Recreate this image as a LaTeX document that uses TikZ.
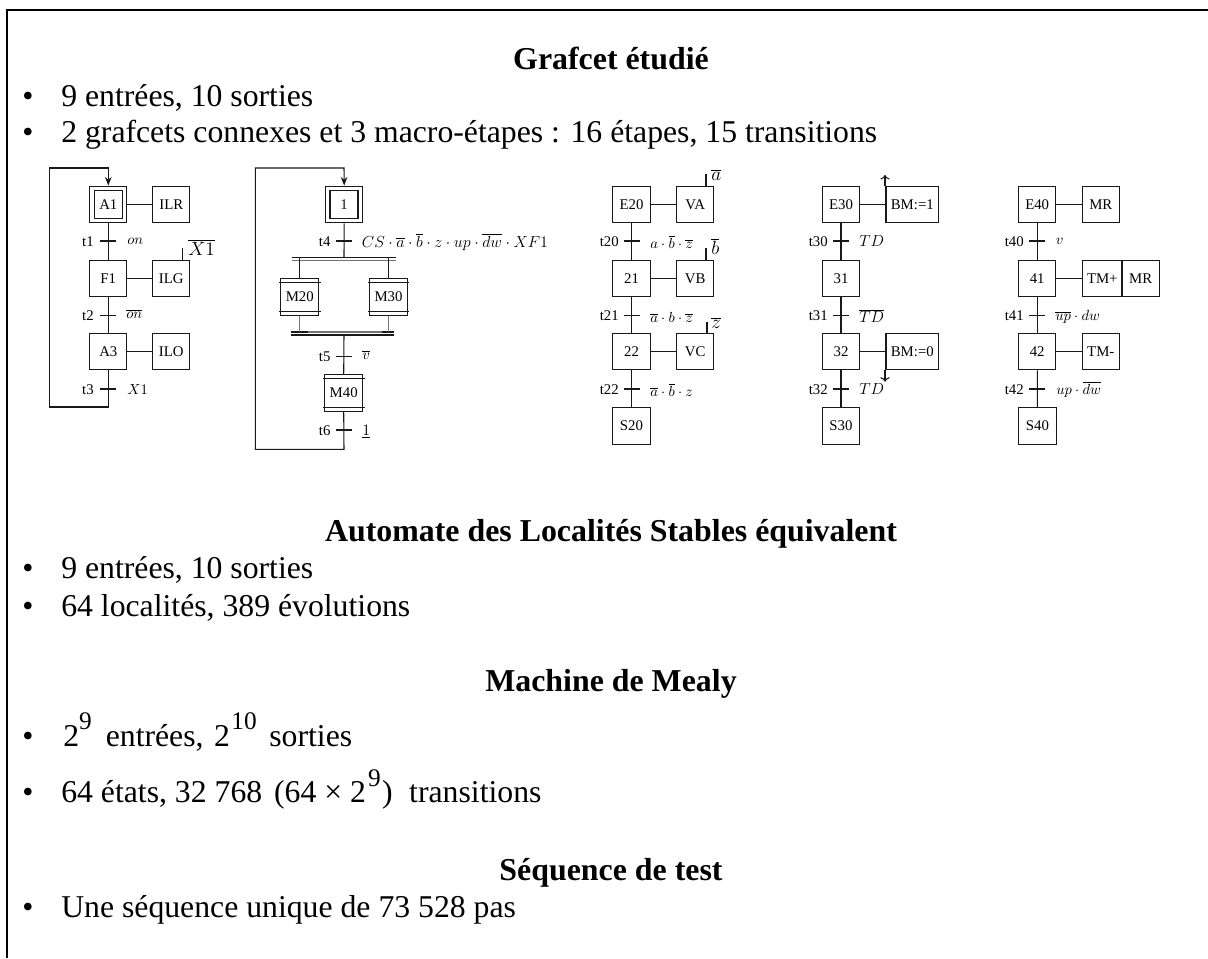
\documentclass[tikz,border=0pt]{standalone}
\usepackage{fontspec}
\setmainfont{Liberation Serif}
\usetikzlibrary{arrows.meta}
\newcommand{\bodyfs}{\fontsize{23.8pt}{28pt}\selectfont}
\newcommand{\supfs}{\fontsize{19pt}{22pt}\selectfont}
\newcommand{\sketchsup}[1]{\raisebox{12.5pt}{\supfs #1}}
\tikzset{
  x=0.75pt,y=-0.75pt,
  frameline/.style={line width=1.5pt,black},
  conn/.style={line width=0.8pt,black!90},
  stepbox/.style={draw,line width=0.8pt,black!90,text=black,inner sep=0pt,minimum width=27.9pt,minimum height=27.6pt,font=\fontsize{11.1pt}{13pt}\selectfont},
  wide/.style={minimum width=39.5pt},
  tm/.style={minimum width=29.5pt},
  macrobox/.style={stepbox,minimum width=28.6pt},
  innerbox/.style={draw,line width=0.8pt,black!90,inner sep=0pt,minimum width=21pt,minimum height=20.8pt},
  ttitle/.style={anchor=base,inner sep=0pt,font=\fontsize{23.9pt}{28pt}\selectfont\bfseries},
  bodytxt/.style={anchor=base west,inner sep=0pt,font=\bodyfs},
  bul/.style={anchor=base,inner sep=0pt,font=\bodyfs},
  tname/.style={anchor=base east,inner sep=0pt,font=\fontsize{11.1pt}{13pt}\selectfont},
  cond/.style={anchor=base west,inner sep=0pt,font=\fontsize{11.85pt}{14pt}\selectfont},
  smallcond/.style={anchor=base west,inner sep=0pt,font=\fontsize{11pt}{13pt}\selectfont},
  bigcond/.style={anchor=base west,inner sep=0pt,font=\fontsize{15pt}{17pt}\selectfont},
}
\newcommand{\tick}[1]{\draw[conn] ([xshift=-6pt]#1) -- ([xshift=6pt]#1);}
\begin{document}
\begin{tikzpicture}
\useasboundingbox (0,0) rectangle (1208,958);
\draw[frameline] (7,958) -- (7,10) -- (1208,10);

% Texts
\node[ttitle] (h1) at (611,69) {Grafcet étudié};
\node[bul] (b1) at (28,106) {•};
\node[bodytxt] (l1) at (61,106) {9 entrées, 10 sorties};
\node[bul] (b2) at (28,142) {•};
\node[bodytxt] (l2) at (61,142) {2 grafcets connexes et 3 macro-étapes : 16 étapes, 15 transitions};

\node[ttitle] (h2) at (611,541.7) {Automate des Localités Stables équivalent};
\node[bul] (b3) at (28,578) {•};
\node[bodytxt] (l3) at (61,578) {9 entrées, 10 sorties};
\node[bul] (b4) at (28,616) {•};
\node[bodytxt] (l4) at (61,616) {64 localités, 389 évolutions};

\node[ttitle] (h3) at (611,691) {Machine de Mealy};
\node[bul] (b5) at (28,746) {•};
\node[bodytxt] (l5) at (63,746) {2\sketchsup{9}\hspace{10.5pt}entrées,\hspace{2pt} 2\hspace{1pt}\sketchsup{10}\hspace{9.5pt}sorties};
\node[bul] (b6) at (28,802.7) {•};
\node[bodytxt] (l6) at (61,802.7) {64 états, 32 768 \hspace{3pt}(64 × 2\hspace{1.5pt}\sketchsup{9}\hspace{1pt}) \hspace{6.5pt}transitions};

\node[ttitle] (h4) at (611,880.7) {Séquence de test};
\node[bul] (b7) at (28,917) {•};
\node[bodytxt] (l7) at (61,917) {Une séquence unique de 73 528 pas};

% Grafcet 1
\node[stepbox] (A1) at (108.3,204.5) {A1};
\node[innerbox] (A1i) at (108.3,204.8) {};
\node[stepbox] (ILR) at (171.3,204.5) {ILR};
\node[stepbox] (F1) at (108.3,278.5) {F1};
\node[stepbox] (ILG) at (171.3,278.5) {ILG};
\node[stepbox] (A3) at (108.3,351.5) {A3};
\node[stepbox] (ILO) at (171.3,351.5) {ILO};
\coordinate (t1) at (108.3,241);
\coordinate (t2) at (108.3,315.3);
\coordinate (t3) at (108.3,389);
\coordinate (la) at (108.3,407);
\coordinate (lb) at (49.3,407);
\coordinate (lc) at (49.3,168);
\coordinate (ld) at (108.3,168);
\coordinate (s1) at (182.7,247.6);
\draw[conn] (A1) -- (ILR);
\draw[conn] (F1) -- (ILG);
\draw[conn] (A3) -- (ILO);
\draw[conn] (A1) -- (F1);
\draw[conn] (F1) -- (A3);
\draw[conn,-{Stealth[length=6.5pt,width=5pt]}] (A3.south) -- (la) -- (lb) -- (lc) -- (ld) -- (A1.north);
\tick{t1}\tick{t2}\tick{t3}
\draw[conn] (ILG.north -| s1) -- (s1);
\node[tname] (n1) at (94,246) {t1};
\node[tname] (n2) at (94,320) {t2};
\node[tname] (n3) at (94,394) {t3};
\node[smallcond] (c1) at (127,244) {$on$};
\node[smallcond] (c2) at (126,318) {$\overline{on}$};
\node[smallcond] (c3) at (127,394) {$X1$};
\node[bigcond] (a1) at (188,255) {$\overline{X1}$};

% Grafcet 2
\node[stepbox] (S1) at (344.2,204.5) {};
\node[innerbox] (S1i) at (344,204.8) {\fontsize{11.1pt}{13pt}\selectfont 1};
\node[macrobox] (M20) at (299.8,297) {M20};
\node[macrobox] (M30) at (388.5,297) {M30};
\node[macrobox] (M40) at (343.7,393) {M40};
\coordinate (t4) at (344,241);
\coordinate (t5) at (344,356.3);
\coordinate (t6) at (344,430);
\coordinate (bu1) at (291.7,257.7);
\coordinate (bu2) at (395.7,257.7);
\coordinate (bv1) at (291.7,260.7);
\coordinate (bv2) at (395.7,260.7);
\coordinate (bx1) at (291.3,332);
\coordinate (bx2) at (393.7,332);
\coordinate (by1) at (291.3,335);
\coordinate (by2) at (393.7,335);
\coordinate (bxa) at (308,332);
\coordinate (bxb) at (382,332);
\coordinate (ma) at (344,449.3);
\coordinate (mb) at (255.3,449.3);
\coordinate (mc) at (255.3,168);
\coordinate (md) at (344,168);
\draw[conn] (S1) -- (t4 |- bu1);
\draw[conn] (bu1) -- (bu2);
\draw[conn,black!55] (bv1) -- (bv2);
\draw[conn,black!55] (bx1) -- (bx2);
\draw[conn,line width=1pt] (bx1) -- (bxa);
\draw[conn,line width=1pt] (bxb) -- (bx2);
\draw[conn] (by1) -- (by2);
\draw[conn] (M20.north) -- (M20.north |- bu1);
\draw[conn] (M30.north) -- (M30.north |- bu1);
\draw[conn,black!55] (M20.south) -- (M20.south |- bx1);
\draw[conn,black!55] (M30.south) -- (M30.south |- bx1);
\draw[conn] (t4 |- by1) -- (M40.north);
\draw[conn,-{Stealth[length=6.5pt,width=5pt]}] (M40.south) -- (ma) -- (mb) -- (mc) -- (md) -- (S1.north);
\foreach \m in {M20,M30,M40}{
  \draw[conn] ([xshift=-1pt,yshift=-3pt]\m.north west) -- ([xshift=1pt,yshift=-3pt]\m.north east);
  \draw[conn] ([xshift=-1pt,yshift=3pt]\m.south west) -- ([xshift=1pt,yshift=3pt]\m.south east);
}
\tick{t4}\tick{t5}\tick{t6}
\node[tname] (n4) at (330.7,246) {t4};
\node[tname] (n5) at (330.7,361) {t5};
\node[tname] (n6) at (330.7,435) {t6};
\node[cond] (c4) at (361.7,247) {$CS\cdot\overline{a}\cdot\overline{b}\cdot z\cdot up\cdot\overline{dw}\cdot XF1$};
\node[smallcond] (c5) at (362,359) {$\overline{v}$};
\node[cond] (c6) at (362,435) {$\underline{1}$};

% Grafcet 3
\node[stepbox] (E20) at (631.5,204.5) {E20};
\node[stepbox] (VA) at (695.2,204.5) {VA};
\node[stepbox] (G21) at (631.5,278.5) {21};
\node[stepbox] (VB) at (695.2,278.5) {VB};
\node[stepbox] (G22) at (631.5,351.5) {22};
\node[stepbox] (VC) at (695.2,351.5) {VC};
\node[stepbox] (S20) at (631.5,426) {S20};
\coordinate (t20) at (631.5,241);
\coordinate (t21) at (631.5,315.3);
\coordinate (t22) at (631.5,389);
\coordinate (s2) at (706,174);
\coordinate (s3) at (706,248);
\coordinate (s4) at (707,322);
\draw[conn] (E20) -- (VA);
\draw[conn] (G21) -- (VB);
\draw[conn] (G22) -- (VC);
\draw[conn] (E20) -- (G21);
\draw[conn] (G21) -- (G22);
\draw[conn] (G22) -- (S20);
\tick{t20}\tick{t21}\tick{t22}
\draw[conn] (VA.north -| s2) -- (s2);
\draw[conn] (VB.north -| s3) -- (s3);
\draw[conn] (VC.north -| s4) -- (s4);
\node[tname] (n20) at (619,246) {t20};
\node[tname] (n21) at (619,320) {t21};
\node[tname] (n22) at (619,394) {t22};
\node[smallcond] (c20) at (650,248) {$a\cdot\overline{b}\cdot\overline{z}$};
\node[smallcond] (c21) at (650,322.5) {$\overline{a}\cdot b\cdot\overline{z}$};
\node[smallcond] (c22) at (650,396) {$\overline{a}\cdot\overline{b}\cdot z$};
\node[bigcond] (a2) at (711,180) {$\overline{a}$};
\node[bigcond] (a3) at (711,254) {$\overline{b}$};
\node[bigcond] (a4) at (711,328) {$\overline{z}$};

% Grafcet 4
\node[stepbox] (E30) at (841,204.5) {E30};
\node[stepbox,wide] (BM1) at (912.3,204.5) {BM:=1};
\node[stepbox] (G31) at (841,278.5) {31};
\node[stepbox] (G32) at (841,351.5) {32};
\node[stepbox,wide] (BM0) at (912.3,351.5) {BM:=0};
\node[stepbox] (S30) at (841,426) {S30};
\coordinate (t30) at (841,241);
\coordinate (t31) at (841,315.3);
\coordinate (t32) at (841,389);
\coordinate (u1) at (885,175);
\coordinate (u2) at (885,381.7);
\draw[conn] (E30) -- (BM1);
\draw[conn] (G32) -- (BM0);
\draw[conn] (E30) -- (G31);
\draw[conn] (G31) -- (G32);
\draw[conn] (G32) -- (S30);
\tick{t30}\tick{t31}\tick{t32}
\draw[conn,->] (BM1.north -| u1) -- (u1);
\draw[conn,->] (BM0.south -| u2) -- (u2);
\node[tname] (n30) at (828,246) {t30};
\node[tname] (n31) at (828,320) {t31};
\node[tname] (n32) at (828,394) {t32};
\node[cond] (c30) at (859,246.7) {$TD$};
\node[cond] (c31) at (859,322.7) {$\overline{TD}$};
\node[cond] (c32) at (859,394.3) {$TD$};

% Grafcet 5
\node[stepbox] (E40) at (1037.2,204.5) {E40};
\node[stepbox] (MR1) at (1100.8,204.5) {MR};
\node[stepbox] (G41) at (1037.2,278.5) {41};
\node[stepbox,tm] (TMp) at (1102.3,278.5) {TM+};
\node[stepbox] (MR2) at (1140.7,278.5) {MR};
\node[stepbox] (G42) at (1037.2,351.5) {42};
\node[stepbox] (TMm) at (1100.8,351.5) {TM-};
\node[stepbox] (S40) at (1037.5,426) {S40};
\coordinate (t40) at (1037.2,241);
\coordinate (t41) at (1037.2,315.3);
\coordinate (t42) at (1037.2,389);
\draw[conn] (E40) -- (MR1);
\draw[conn] (G41) -- (TMp);
\draw[conn] (G42) -- (TMm);
\draw[conn] (E40) -- (G41);
\draw[conn] (G41) -- (G42);
\draw[conn] (G42) -- (S40);
\tick{t40}\tick{t41}\tick{t42}
\node[tname] (n40) at (1024,246) {t40};
\node[tname] (n41) at (1024,320) {t41};
\node[tname] (n42) at (1024,394) {t42};
\node[smallcond] (c40) at (1055.7,244) {$v$};
\node[smallcond] (c41) at (1055,320) {$\overline{up}\cdot dw$};
\node[smallcond] (c42) at (1056,394) {$up\cdot\overline{dw}$};
\end{tikzpicture}
\end{document}
